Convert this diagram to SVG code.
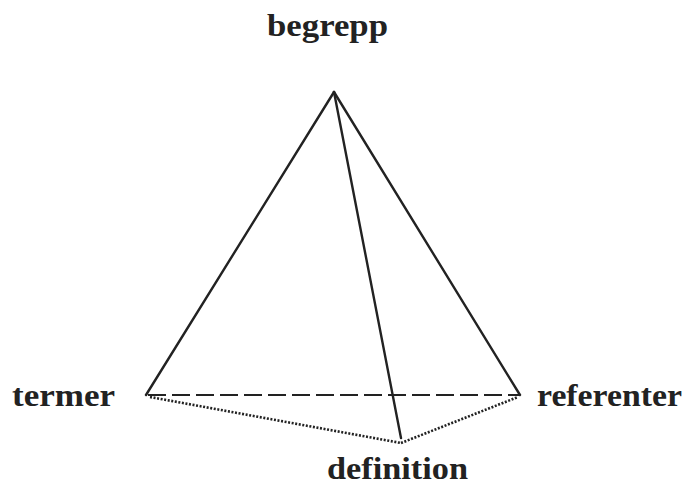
<svg xmlns="http://www.w3.org/2000/svg" width="685" height="487" viewBox="0 0 685 487">
<style>
.lbl{font-family:"Liberation Serif","Times New Roman",serif;font-weight:bold;font-size:32px;fill:#222;}
.solid{stroke:#222;stroke-width:2.4;fill:none;stroke-linecap:round;}
.dash{stroke:#222;stroke-width:2;fill:none;stroke-dasharray:18 6;}
.dot{stroke:#222;stroke-width:2.6;fill:none;stroke-dasharray:2 1.6;}
</style>
<rect width="685" height="487" fill="#fff"/>
<g id="connectors">
<line class="solid" x1="334" y1="92" x2="146" y2="395"/>
<line class="solid" x1="334" y1="92" x2="520" y2="395"/>
<line class="solid" x1="334" y1="92" x2="401" y2="438"/>
<line class="dash" x1="148" y1="395" x2="520" y2="395"/>
<line class="dot" x1="150" y1="397" x2="401" y2="443"/>
<line class="dot" x1="401" y1="443" x2="518" y2="397"/>
</g>
<g id="begrepp"><text class="lbl" x="267" y="36" textLength="121" lengthAdjust="spacingAndGlyphs">begrepp</text></g>
<g id="termer"><text class="lbl" x="12" y="406" textLength="103" lengthAdjust="spacingAndGlyphs">termer</text></g>
<g id="referenter"><text class="lbl" x="537" y="406" textLength="145" lengthAdjust="spacingAndGlyphs">referenter</text></g>
<g id="definition"><text class="lbl" x="327" y="479" textLength="141" lengthAdjust="spacingAndGlyphs">definition</text></g>
</svg>
